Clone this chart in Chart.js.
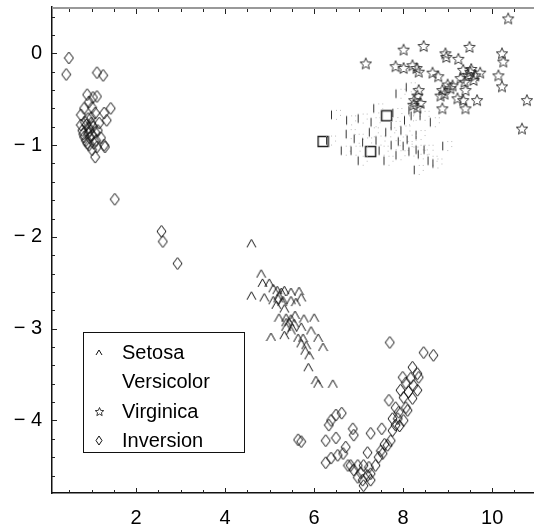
<!DOCTYPE html>
<html>
<head>
<meta charset="utf-8">
<script src="https://cdn.jsdelivr.net/npm/chart.js@4"></script>
<style>
  html, body { margin: 0; padding: 0; background: #fff; }
  #plot { display: block; }
</style>
</head>
<body>
<canvas id="plot" width="534" height="527"></canvas>
<script>
// data, [x, y] pairs per group
const seriesNames = ["Setosa", "Versicolor", "Virginica", "Inversion"];
const xTicks = [2, 4, 6, 8, 10];
const yTicks = [0, -1, -2, -3, -4];

const setosa = [
  [4.59,-2.07],[4.81,-2.40],[4.84,-2.50],[4.59,-2.64],[4.88,-2.66],[5.08,-2.56],[5.17,-2.58],
  [5.26,-2.60],[5.33,-2.58],[5.48,-2.60],[5.66,-2.59],[5.71,-2.66],[5.19,-2.67],[5.08,-2.69],
  [5.30,-2.69],[5.15,-2.74],[5.48,-2.69],[5.59,-2.71],[5.33,-2.78],[5.21,-2.88],[5.37,-2.88],
  [5.48,-2.89],[5.77,-2.89],[6.00,-2.88],[5.44,-2.93],[5.55,-2.94],[5.37,-2.98],[5.48,-3.02],
  [5.71,-2.98],[5.03,-3.09],[5.33,-3.07],[5.64,-3.10],[5.75,-3.10],[5.71,-3.16],[5.82,-3.18],
  [6.09,-3.10],[6.20,-3.20],[5.89,-3.29],[5.87,-3.42],[6.04,-3.56],[6.09,-3.60],[6.42,-3.60],
  [5.21,-2.64],[5.28,-2.71],[5.37,-2.93],[5.51,-2.99],[4.99,-2.50],[5.57,-2.85],[5.93,-3.02],
  [5.80,-3.24]
];

const versicolor = [
  [6.20,-0.96],[7.27,-1.07],[7.63,-0.68],[7.94,-0.44],[8.17,-0.37],[8.28,-0.68],[8.71,-0.75],
  [7.34,-0.86],[7.00,-0.93],[7.99,-0.96],[8.10,-1.01],[8.23,-1.07],[8.39,-1.05],[8.44,-1.10],
  [8.99,-1.01],[8.35,-1.27],[6.82,-0.88],[6.83,-0.73],[7.09,-0.71],[7.44,-0.60],[6.71,-1.06],
  [6.93,-1.06],[7.56,-1.06],[7.49,-0.95],[7.71,-0.86],[7.83,-0.79],[8.05,-0.84],[7.83,-1.00],
  [7.94,-1.11],[7.67,-1.17],[8.13,-0.73],[8.39,-0.89],[8.57,-1.05],[8.66,-1.17],[6.49,-0.67],
  [6.38,-0.95],[7.09,-1.17],[7.38,-0.75],[7.19,-0.97],[8.23,-0.62],[8.48,-0.68],[7.87,-0.65],
  [8.19,-0.94],[8.77,-1.20]
];
// these few show as complete squares in the original
const versicolorSolid = [0, 1, 2];

const virginica = [
  [10.36,0.38],[8.01,0.04],[8.46,0.08],[9.49,0.07],[8.95,0.00],[8.97,-0.04],[9.24,-0.06],
  [10.22,0.00],[10.25,-0.09],[7.83,-0.14],[8.01,-0.16],[8.21,-0.13],[8.35,-0.20],[8.66,-0.21],
  [8.79,-0.25],[9.35,-0.18],[9.51,-0.20],[9.62,-0.24],[9.73,-0.21],[9.58,-0.29],[9.29,-0.27],
  [10.14,-0.24],[10.22,-0.36],[9.11,-0.35],[9.06,-0.38],[8.88,-0.40],[8.84,-0.46],[9.40,-0.40],
  [9.22,-0.49],[9.35,-0.51],[9.66,-0.51],[8.35,-0.40],[8.32,-0.46],[8.23,-0.56],[8.32,-0.59],
  [8.88,-0.60],[9.40,-0.60],[10.78,-0.51],[7.16,-0.11],[10.67,-0.82],[9.46,-0.24],[9.53,-0.17],
  [9.00,-0.34],[8.25,-0.51],[8.39,-0.54],[8.93,-0.44],[9.38,-0.31],[8.30,-0.16]
];

const inversion = [
  // upper left group
  [0.43,-0.23],[0.49,-0.05],[1.12,-0.21],[1.26,-0.24],[0.90,-0.45],[1.03,-0.48],[1.12,-0.47],
  [0.94,-0.53],[0.83,-0.60],[1.01,-0.59],[1.43,-0.60],[0.76,-0.67],[1.08,-0.65],[1.28,-0.65],
  [1.34,-0.73],[0.85,-0.75],[0.99,-0.76],[1.17,-0.76],[0.79,-0.84],[0.94,-0.81],[1.08,-0.86],
  [0.83,-0.91],[0.96,-0.92],[1.21,-0.92],[0.90,-0.98],[1.05,-0.98],[1.28,-1.00],[1.30,-1.02],
  [1.01,-1.05],[1.08,-1.13],[0.88,-0.78],[0.92,-0.87],[1.01,-0.89],[0.87,-0.95],[0.96,-0.84],
  [1.03,-0.80],[0.76,-0.78],[1.10,-0.95],[0.92,-0.71],[1.14,-0.84],[0.81,-0.88],[0.94,-1.00],
  [1.12,-1.02],[0.99,-0.70],
  // the few in between
  [1.52,-1.59],[2.57,-1.94],[2.60,-2.05],[2.93,-2.29],
  // lower V
  [7.70,-3.15],[8.46,-3.26],[8.68,-3.29],[8.21,-3.42],[8.32,-3.49],[7.99,-3.53],[8.17,-3.54],
  [8.35,-3.53],[8.06,-3.59],[8.23,-3.62],[7.94,-3.67],[8.12,-3.69],[8.32,-3.67],[8.01,-3.75],
  [8.21,-3.76],[7.68,-3.78],[7.83,-3.86],[8.06,-3.86],[7.90,-3.91],[8.10,-3.89],[7.88,-3.98],
  [8.01,-4.00],[7.92,-4.06],[6.38,-4.00],[6.49,-3.94],[6.62,-3.92],[6.33,-4.05],[6.87,-4.09],
  [6.89,-4.16],[7.27,-4.14],[7.52,-4.09],[7.72,-4.22],[7.65,-4.27],[6.26,-4.22],[6.49,-4.19],
  [6.71,-4.29],[7.20,-4.35],[7.45,-4.40],[7.54,-4.36],[7.38,-4.49],[6.26,-4.46],[6.38,-4.41],
  [6.53,-4.38],[6.65,-4.36],[6.76,-4.49],[6.82,-4.49],[6.98,-4.49],[7.11,-4.49],[7.23,-4.51],
  [6.89,-4.54],[7.05,-4.57],[7.20,-4.60],[7.27,-4.58],[6.98,-4.62],[7.09,-4.65],[7.11,-4.71],
  [7.27,-4.65],[5.64,-4.21],[5.71,-4.23],[7.50,-4.33],[7.58,-4.26],[7.76,-4.11],[7.83,-4.05],
  [7.76,-3.98]
];

// marker glyphs
function glyph(w, h, draw) {
  const c = document.createElement("canvas");
  c.width = w; c.height = h;
  const g = c.getContext("2d");
  g.lineWidth = 1;
  draw(g);
  return c;
}
function caret(w, h) {
  return glyph(w + 2, h + 2, g => {
    g.strokeStyle = "#111";
    g.beginPath();
    g.moveTo(1, h + 1); g.lineTo(1 + w / 2, 1); g.lineTo(w + 1, h + 1);
    g.stroke();
  });
}
function diamond(w, h) {
  return glyph(w + 2, h + 2, g => {
    g.strokeStyle = "#111";
    g.beginPath();
    g.moveTo(1 + w / 2, 1); g.lineTo(w + 1, 1 + h / 2);
    g.lineTo(1 + w / 2, h + 1); g.lineTo(1, 1 + h / 2);
    g.closePath();
    g.stroke();
  });
}
function star(r) {
  const s = Math.ceil(r * 2 + 2);
  return glyph(s, s, g => {
    g.strokeStyle = "#222";
    g.lineWidth = 0.9;
    g.beginPath();
    for (let i = 0; i < 10; i++) {
      const rr = i % 2 ? r * 0.45 : r;
      const a = -Math.PI / 2 + i * Math.PI / 5;
      const px = s / 2 + rr * Math.cos(a), py = s / 2 + 0.5 + rr * Math.sin(a);
      if (i === 0) g.moveTo(px, py); else g.lineTo(px, py);
    }
    g.closePath();
    g.stroke();
  });
}
function brokenSquare(n) {
  return glyph(n + 2, n + 2, g => {
    g.strokeStyle = "#333";
    g.beginPath();
    g.moveTo(1.5, 1); g.lineTo(1.5, n + 1);
    g.stroke();
    g.strokeStyle = "#bbb";
    g.setLineDash([1, 4]);
    g.beginPath();
    g.moveTo(1, 1.5); g.lineTo(n + 1, 1.5);
    g.moveTo(n + 0.5, 1); g.lineTo(n + 0.5, n + 1);
    g.moveTo(1, n + 0.5); g.lineTo(n + 1, n + 0.5);
    g.stroke();
  });
}
function solidSquare(n) {
  return glyph(n + 2, n + 2, g => {
    g.strokeStyle = "#222";
    g.lineWidth = 1.5;
    g.strokeRect(1.5, 1.5, n - 1, n - 1);
  });
}

const squareBroken = brokenSquare(10);
const squareSolid = solidSquare(11);
const markers = [
  caret(9, 8),
  ctx => versicolorSolid.includes(ctx.dataIndex) ? squareSolid : squareBroken,
  star(6),
  diamond(9, 12)
];
const legendMarkers = [caret(6, 5), null, star(4.5), diamond(6, 9)];

const fontFamily = "'Liberation Sans', Arial, Helvetica, sans-serif";

// frame, inward ticks and the boxed legend
const framePlugin = {
  id: "frame",
  afterDraw(chart) {
    const { ctx, chartArea: a, scales: { x, y } } = chart;
    ctx.save();
    ctx.strokeStyle = "#999";
    ctx.lineWidth = 2;
    ctx.beginPath();
    ctx.moveTo(a.left, a.top + 1); ctx.lineTo(a.right, a.top + 1);
    ctx.stroke();

    ctx.strokeStyle = "#222";
    ctx.lineWidth = 1;
    ctx.beginPath();
    for (let v = 0.5; v < x.max; v += 0.5) {
      const px = Math.round(x.getPixelForValue(v)) + 0.5;
      const len = v % 2 === 0 ? 5 : 3;
      ctx.moveTo(px, a.bottom); ctx.lineTo(px, a.bottom - len);
      ctx.moveTo(px, a.top + 2); ctx.lineTo(px, a.top + 2 + len);
    }
    for (let k = 2; k >= -23; k--) {
      const v = k / 5;
      const py = Math.round(y.getPixelForValue(v)) + 0.5;
      const len = k % 5 === 0 ? 5 : 3;
      ctx.moveTo(a.left, py); ctx.lineTo(a.left + len, py);
    }
    ctx.stroke();

    // legend box
    const bx = a.left + 31, by = a.top + 325, bw = 161, bh = 120;
    ctx.fillStyle = "#fff";
    ctx.fillRect(bx, by, bw, bh);
    ctx.strokeStyle = "#111";
    ctx.lineWidth = 1;
    ctx.strokeRect(bx + 0.5, by + 0.5, bw, bh);
    ctx.font = "20px " + fontFamily;
    ctx.fillStyle = "#000";
    ctx.textBaseline = "middle";
    chart.data.datasets.forEach((ds, i) => {
      const cy = by + 20 + i * 29.5;
      const m = legendMarkers[i];
      if (m) ctx.drawImage(m, Math.round(bx + 16 - m.width / 2), Math.round(cy - m.height / 2));
      ctx.fillText(ds.label, bx + 39, cy + 1);
    });
    ctx.restore();
  }
};

const groups = [setosa, versicolor, virginica, inversion];
const drawOrder = [3, 1, 0, 2];

function noPad(s) {
  s.paddingTop = 0; s.paddingBottom = 0;
  s.paddingLeft = 0; s.paddingRight = 0;
}

new Chart(document.getElementById("plot"), {
  type: "scatter",
  data: {
    datasets: groups.map((pts, i) => ({
      label: seriesNames[i],
      data: pts.map(p => ({ x: p[0], y: p[1] })),
      pointStyle: markers[i],
      pointRadius: 5,
      pointHoverRadius: 5,
      order: drawOrder[i]
    }))
  },
  options: {
    responsive: false,
    animation: false,
    events: [],
    layout: { autoPadding: false, padding: { top: 7, right: 0, bottom: 0, left: 0 } },
    plugins: { legend: { display: false }, tooltip: { enabled: false } },
    scales: {
      x: {
        type: "linear",
        min: 0.11,
        max: 10.94,
        afterBuildTicks: s => { s.ticks = xTicks.map(v => ({ value: v })); },
        afterFit: s => { s.height = 34; noPad(s); },
        grid: { display: false, drawTicks: false },
        border: { display: true, color: "#111", width: 1.5 },
        ticks: {
          color: "#000",
          padding: 13,
          maxRotation: 0,
          autoSkip: false,
          font: { family: fontFamily, size: 20 }
        }
      },
      y: {
        type: "linear",
        min: -4.79,
        max: 0.505,
        afterBuildTicks: s => { s.ticks = yTicks.map(v => ({ value: v })); },
        afterFit: s => { s.width = 52; noPad(s); },
        grid: { display: false, drawTicks: false },
        border: { display: true, color: "#111", width: 1.5 },
        ticks: {
          color: "#000",
          padding: 10,
          autoSkip: false,
          font: { family: fontFamily, size: 20 },
          callback: v => v < 0 ? "\u2212 " + Math.abs(v) : String(v)
        }
      }
    }
  },
  plugins: [framePlugin]
});
</script>
</body>
</html>
